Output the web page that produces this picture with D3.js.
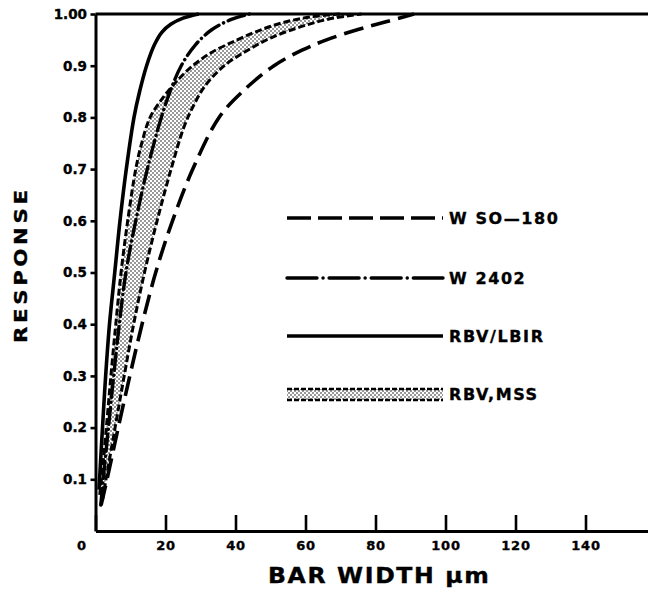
<!DOCTYPE html>
<html><head><meta charset="utf-8">
<script src="https://cdn.jsdelivr.net/npm/d3@7/dist/d3.min.js"></script>
<style>body{margin:0;background:#fff}svg{display:block}</style>
</head><body><svg id="c" width="648" height="591"></svg>
<script>
// ---- data ----
const xTicks = [0, 20, 40, 60, 80, 100, 120, 140];
const yTicks = [0.1, 0.2, 0.3, 0.4, 0.5, 0.6, 0.7, 0.8, 0.9, 1.0];
const yTickLabels = ["0.1", "0.2", "0.3", "0.4", "0.5", "0.6", "0.7", "0.8", "0.9", "1.00"];
const seriesNames = ["W SO\u2014180", "W 2402", "RBV/LBIR", "RBV,MSS"];

// W SO-180 (long dashes)
const so180X = [1.6, 3.3, 6.5, 9.8, 13.3, 17.2, 22.0, 27.8, 35.3, 42, 51, 59, 66, 75, 83, 91];
const so180Y = [0.05, 0.1, 0.2, 0.3, 0.4, 0.5, 0.6, 0.7, 0.8, 0.85, 0.9, 0.93, 0.95, 0.97, 0.985, 1.0];
// W 2402 (dash-dot)
const w2402X = [1.5, 2.2, 3.7, 5.2, 6.8, 8.7, 11.5, 14.8, 18.8, 21.3, 24.5, 28.5, 33.3, 39, 44];
const w2402Y = [0.05, 0.1, 0.2, 0.3, 0.4, 0.5, 0.6, 0.7, 0.8, 0.85, 0.9, 0.94, 0.97, 0.99, 1.0];
// RBV/LBIR (solid)
const lbirX = [1.0, 2.0, 2.9, 4.0, 5.5, 7.0, 8.8, 11.0, 12.6, 14.6, 16.8, 19.0, 21.5, 25, 29.5];
const lbirY = [0.08, 0.2, 0.3, 0.4, 0.5, 0.6, 0.7, 0.8, 0.85, 0.9, 0.94, 0.965, 0.98, 0.992, 1.0];
// RBV,MSS band: upper (left) and lower (right) limits
const mssHiX = [1.2, 1.7, 3.1, 4.4, 5.8, 7.3, 9.2, 11.5, 13.2, 15.6, 19.5, 23.2, 27.8, 33, 40.5, 47.5, 54.5, 62, 70];
const mssHiY = [0.07, 0.1, 0.2, 0.3, 0.4, 0.5, 0.6, 0.7, 0.75, 0.8, 0.84, 0.87, 0.9, 0.925, 0.95, 0.97, 0.985, 0.995, 1.0];
const mssLoX = [2.0, 3.0, 5.6, 8.2, 10.9, 14.0, 17.6, 21.6, 25.2, 27.8, 31.2, 36.8, 43.5, 50.5, 58.5, 66.5, 76];
const mssLoY = [0.06, 0.1, 0.2, 0.3, 0.4, 0.5, 0.6, 0.7, 0.78, 0.82, 0.86, 0.9, 0.93, 0.955, 0.975, 0.99, 1.0];

// ---- drawing ----
const svg = d3.select("#c");
const FONT = "'DejaVu Sans', sans-serif";
const x = d3.scaleLinear().domain([0, 158]).range([95.5, 648.5]);
const y = d3.scaleLinear().domain([0, 1]).range([531, 14]);

const defs = svg.append("defs");
const P = 4;
const pat = defs.append("pattern").attr("id", "stip").attr("patternUnits", "userSpaceOnUse")
  .attr("width", P).attr("height", P);
pat.append("rect").attr("width", P).attr("height", P).attr("fill", "#fff");
pat.append("circle").attr("cx", P / 4).attr("cy", P / 4).attr("r", 0.75).attr("fill", "#000");
pat.append("circle").attr("cx", 3 * P / 4).attr("cy", 3 * P / 4).attr("r", 0.75).attr("fill", "#000");

const pts = (xs, ys) => xs.map((v, i) => [v, ys[i]]);
const line = d3.line().x(d => x(d[0])).y(d => y(d[1])).curve(d3.curveCatmullRom.alpha(0.5));

// band fill
const hi = pts(mssHiX, mssHiY), lo = pts(mssLoX, mssLoY);
const bandPath = line(hi) + "L" + line(lo.slice().reverse()).slice(1) + "Z";
svg.append("path").attr("d", bandPath).attr("fill", "url(#stip)").attr("stroke", "none");

// band boundaries
[hi, lo].forEach(p => svg.append("path").attr("d", line(p)).attr("fill", "none")
  .attr("stroke", "#000").attr("stroke-width", 3).attr("stroke-dasharray", "7,3"));

// curves
svg.append("path").attr("d", line(pts(so180X, so180Y))).attr("fill", "none")
  .attr("stroke", "#000").attr("stroke-width", 3.6).attr("stroke-dasharray", "20,8");
svg.append("path").attr("d", line(pts(w2402X, w2402Y))).attr("fill", "none")
  .attr("stroke", "#000").attr("stroke-width", 3.4).attr("stroke-linecap", "round")
  .attr("stroke-dasharray", "17,5,0.1,5");
svg.append("path").attr("d", line(pts(lbirX, lbirY))).attr("fill", "none")
  .attr("stroke", "#000").attr("stroke-width", 3.6);

// top frame line at 1.00
svg.append("line").attr("x1", x(0)).attr("x2", x(158)).attr("y1", y(1)).attr("y2", y(1))
  .attr("stroke", "#000").attr("stroke-width", 3);

// heavy lettering helper
const heavy = sel => sel.attr("font-family", FONT).attr("font-weight", "bold")
  .attr("stroke", "#000").attr("stroke-width", 0.35).attr("fill", "#000");

// axes
const gx = svg.append("g").attr("transform", `translate(0,${y(0)})`)
  .call(d3.axisBottom(x).tickValues(xTicks).tickSizeInner(-16).tickSizeOuter(0).tickPadding(10));
gx.select(".domain").attr("stroke-width", 3);
gx.selectAll(".tick line").attr("stroke-width", 2.6);
heavy(gx.selectAll("text")).attr("font-size", 13).attr("letter-spacing", "0.8px");
gx.selectAll(".tick").filter(d => d === 0).select("text").attr("x", -14);

const gy = svg.append("g").attr("transform", `translate(${x(0)},0)`)
  .call(d3.axisLeft(y).tickValues(yTicks).tickFormat((d, i) => yTickLabels[i])
    .tickSizeInner(5).tickSizeOuter(0).tickPadding(3.5));
gy.select(".domain").attr("stroke-width", 3);
gy.selectAll(".tick line").attr("stroke-width", 2.6);
heavy(gy.selectAll("text")).attr("font-size", 13.5);

// axis titles (slightly extended lettering)
heavy(svg.append("text")).attr("transform", "translate(268,583) scale(1.15,1)")
  .attr("font-size", 20.5).attr("textLength", 192).attr("lengthAdjust", "spacing")
  .text("BAR  WIDTH \u03BCm");
heavy(svg.append("text")).attr("transform", "translate(26.5,266.5) rotate(-90) scale(1.15,1)")
  .attr("text-anchor", "middle").attr("font-size", 18.5)
  .attr("textLength", 133).attr("lengthAdjust", "spacing").text("RESPONSE");

// legend
const lgX1 = 287, lgX2 = 443, lgRows = [218, 278, 336, 394];
const lg = svg.append("g");
lg.append("line").attr("x1", lgX1).attr("x2", lgX2).attr("y1", lgRows[0]).attr("y2", lgRows[0])
  .attr("stroke", "#000").attr("stroke-width", 3.6).attr("stroke-dasharray", "24,7");
lg.append("line").attr("x1", lgX1).attr("x2", lgX2).attr("y1", lgRows[1]).attr("y2", lgRows[1])
  .attr("stroke", "#000").attr("stroke-width", 3.4).attr("stroke-linecap", "round")
  .attr("stroke-dasharray", "30,6,0.1,6");
lg.append("line").attr("x1", lgX1).attr("x2", lgX2).attr("y1", lgRows[2]).attr("y2", lgRows[2])
  .attr("stroke", "#000").attr("stroke-width", 3.6);
lg.append("rect").attr("x", lgX1).attr("y", lgRows[3] - 5).attr("width", lgX2 - lgX1).attr("height", 11)
  .attr("fill", "url(#stip)");
[lgRows[3] - 5, lgRows[3] + 6].forEach(yy => lg.append("line").attr("x1", lgX1).attr("x2", lgX2)
  .attr("y1", yy).attr("y2", yy).attr("stroke", "#000").attr("stroke-width", 2.4)
  .attr("stroke-dasharray", "5,2"));
seriesNames.forEach((s, i) => heavy(lg.append("text")).attr("x", 449).attr("y", lgRows[i]).attr("dy", "0.36em")
  .attr("font-size", 16).attr("letter-spacing", "1.6px").text(s));
</script></body></html>
